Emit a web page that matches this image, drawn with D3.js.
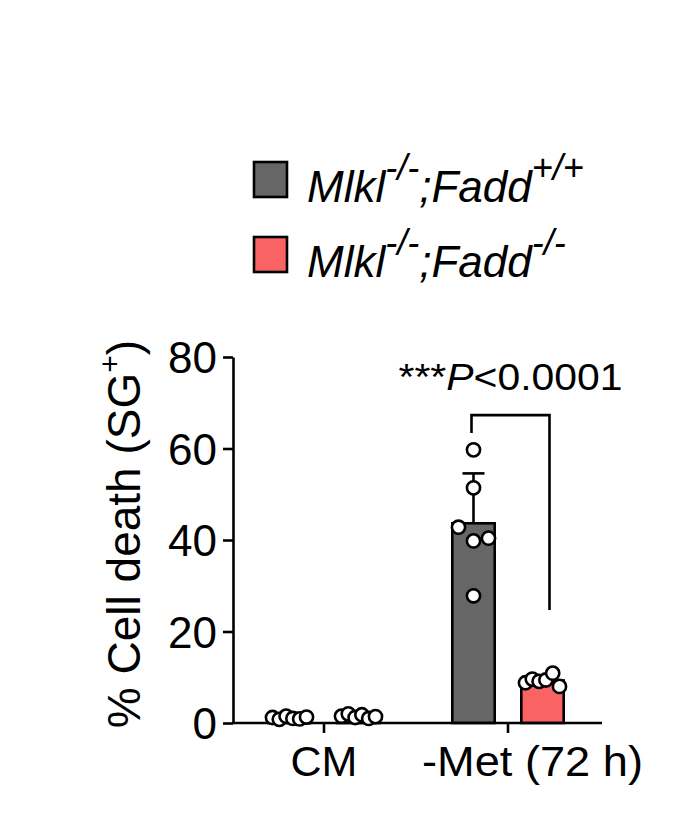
<!DOCTYPE html>
<html><head><meta charset="utf-8">
<script src="https://cdn.jsdelivr.net/npm/d3@7"></script>
<style>
body{margin:0;background:#fff}
svg{display:block}
text{font-family:"Liberation Sans",Arial,Helvetica,sans-serif;fill:#000}
</style>
</head><body>
<svg id="chart" width="687" height="819"></svg>
<script>
// ---- data ----
const categories = ["CM", "-Met (72 h)"];
const groups = ["Fadd+/+", "Fadd-/-"];
const cmWT  = [1.2, 0.8, 1.5, 1.0, 0.9, 1.3];
const cmKO  = [1.5, 2.0, 1.2, 1.8, 1.0, 1.4];
const metWT = [59.7, 51.4, 42.8, 39.8, 40.4, 27.8];
const metKO = [8.8, 9.6, 9.1, 9.4, 10.9, 8.0];
const yTicks = [0, 20, 40, 60, 80];
const sigBracket = [63.4, 67.3, 24.7]; // left leg bottom, top, right leg bottom (data units)
const sigText = ["***", "P", "<0.0001"];
const legendLabels = [
  {base: "Mlkl", sup1: "-/-", mid: ";Fadd", sup2: "+/+"},
  {base: "Mlkl", sup1: "-/-", mid: ";Fadd", sup2: "-/-"}
];
const colors = ["#666666", "#F96363"];

const series = [
  {cat: categories[0], grp: groups[0], vals: cmWT},
  {cat: categories[0], grp: groups[1], vals: cmKO},
  {cat: categories[1], grp: groups[0], vals: metWT},
  {cat: categories[1], grp: groups[1], vals: metKO}
];

// ---- scales ----
const svg = d3.select("#chart");
const y = d3.scaleLinear().domain([0, 80]).range([723, 357]);
const x = d3.scaleBand().domain(categories).range([232, 600]);
const xg = d3.scaleBand().domain(groups).range([-69, 69]);
const barW = 45, r = 6.6, SW = 2.6;
const col = d3.scaleOrdinal().domain(groups).range(colors);

series.forEach(s => {
  s.mean = d3.mean(s.vals);
  s.sd = d3.deviation(s.vals);
  s.cx = x(s.cat) + x.bandwidth() / 2 + xg(s.grp) + xg.bandwidth() / 2;
});

// ---- bars ----
svg.append("g").selectAll("rect").data(series).join("rect")
  .attr("x", d => d.cx - barW / 2 + SW / 2)
  .attr("width", barW - SW)
  .attr("y", d => y(d.mean))
  .attr("height", d => y(0) - y(d.mean))
  .attr("fill", d => col(d.grp))
  .attr("stroke", "#000").attr("stroke-width", SW);

// ---- error bars (upward SD) ----
const eb = svg.append("g").attr("stroke", "#000").attr("stroke-width", SW).attr("fill", "none");
series.forEach(s => {
  const top = y(s.mean + s.sd);
  eb.append("line").attr("x1", s.cx).attr("x2", s.cx).attr("y1", y(s.mean)).attr("y2", top);
  eb.append("line").attr("x1", s.cx - 11).attr("x2", s.cx + 11).attr("y1", top).attr("y2", top);
});

// ---- axes ----
const yAxis = svg.append("g").attr("transform", `translate(${x.range()[0] + 1},0)`)
  .call(d3.axisLeft(y).tickValues(yTicks).tickSize(10).tickSizeOuter(0).tickPadding(6));
yAxis.selectAll("path,line").attr("stroke", "#000").attr("stroke-width", SW);
yAxis.selectAll("text").attr("font-size", 44).attr("fill", "#000")
  .style("font-family", "'Liberation Sans',Arial,sans-serif").attr("dy", "0.36em");

const xAxis = svg.append("g").attr("transform", `translate(0,${y(0)})`)
  .call(d3.axisBottom(x).tickSize(10).tickSizeOuter(0).tickPadding(12));
xAxis.select(".domain").attr("d", `M${x.range()[0]},0H${x.range()[1] + 2}`);
xAxis.selectAll("path,line").attr("stroke", "#000").attr("stroke-width", SW);
xAxis.selectAll("text").attr("font-size", 43).attr("fill", "#000")
  .style("font-family", "'Liberation Sans',Arial,sans-serif");
xAxis.selectAll(".tick text").filter(d => d === categories[1])
  .attr("text-anchor", "start").attr("x", 422 - x(categories[1]) - x.bandwidth() / 2)
  .attr("textLength", 221).attr("lengthAdjust", "spacingAndGlyphs");

// ---- points (clustered horizontal spread) ----
const pts = svg.append("g");
series.forEach(s => {
  const items = s.vals.map((v, i) => ({v, i, py: y(v)}));
  const sorted = items.slice().sort((a, b) => a.py - b.py);
  const clusters = [];
  sorted.forEach(p => {
    const last = clusters[clusters.length - 1];
    if (last && p.py - last[last.length - 1].py < 14) last.push(p); else clusters.push([p]);
  });
  clusters.forEach(c => {
    c.sort((a, b) => a.i - b.i);
    const n = c.length;
    const sp = n > 1 ? Math.min(15, 34 / (n - 1)) : 0;
    c.forEach((p, k) => { p.px = s.cx + (k - (n - 1) / 2) * sp; });
  });
  pts.selectAll(null).data(items).join("circle")
    .attr("cx", d => d.px).attr("cy", d => d.py).attr("r", r)
    .attr("fill", "#fff").attr("stroke", "#000").attr("stroke-width", SW);
});

// ---- significance bracket ----
const sWT = series[2], sKO = series[3];
const bx1 = sWT.cx - 2, bx2 = sKO.cx + 7;
svg.append("path")
  .attr("d", `M${bx1},${y(sigBracket[0])}V${y(sigBracket[1])}H${bx2}V${y(sigBracket[2])}`)
  .attr("fill", "none").attr("stroke", "#000").attr("stroke-width", SW);
const st = svg.append("text").attr("x", (bx1 + bx2) / 2).attr("y", 390)
  .attr("text-anchor", "middle").attr("font-size", 37)
  .attr("textLength", 224).attr("lengthAdjust", "spacingAndGlyphs");
st.append("tspan").text(sigText[0]);
st.append("tspan").attr("font-style", "italic").text(sigText[1]);
st.append("tspan").text(sigText[2]);

// ---- y label ----
const yl = svg.append("text")
  .attr("transform", "translate(140,534) rotate(-90)")
  .attr("text-anchor", "middle").attr("font-size", 46);
yl.append("tspan").text("% Cell death (SG");
yl.append("tspan").attr("font-size", 30).attr("dy", -20).text("+");
yl.append("tspan").attr("dy", 20).text(")");

// ---- legend ----
const lg = svg.append("g");
legendLabels.forEach((L, i) => {
  const top = 162 + i * 75;
  lg.append("rect").attr("x", 254).attr("y", top).attr("width", 33).attr("height", 35)
    .attr("fill", colors[i]).attr("stroke", "#000").attr("stroke-width", SW);
  const t = lg.append("text").attr("x", 307).attr("y", top + 40)
    .attr("font-size", 44).attr("font-style", "italic");
  t.append("tspan").text(L.base);
  t.append("tspan").attr("font-size", 36).attr("dy", -22).text(L.sup1);
  t.append("tspan").attr("dy", 22).text(L.mid);
  t.append("tspan").attr("font-size", 36).attr("dy", -22).text(L.sup2);
});
</script>
</body></html>
